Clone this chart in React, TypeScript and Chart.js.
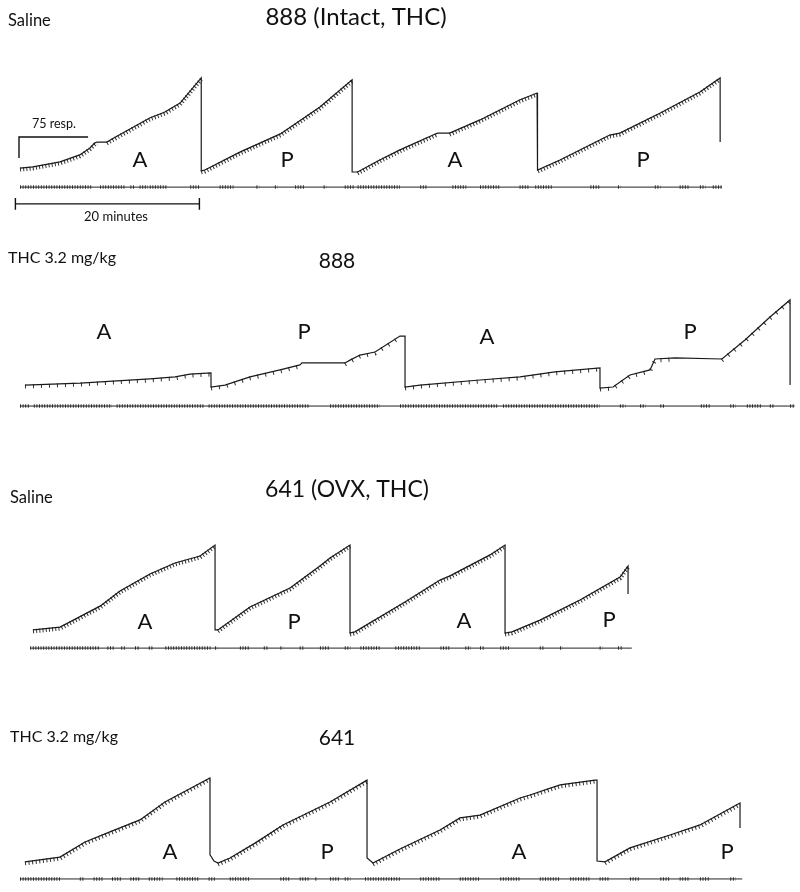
import React, { useEffect, useRef } from "react";
import { Chart, registerables } from "chart.js";

Chart.register(...registerables);

type P = [number, number]; // [minutes, cumulative responses]

// ---- Cumulative records (minutes, cumulative responses; pen resets are vertical drops) ----
const trace888Saline: P[] = [
  [0, 14], [1.4, 18], [4.35, 36], [6.5, 61], [7.6, 86], [8.15, 104], [8.4, 107], [9.45, 107], [10, 118],
  [14.1, 193], [15.75, 214], [17.4, 246], [19.7, 336],
  [19.7, 4], [20.1, 7], [23.9, 71], [28.3, 136], [32.6, 232], [36.1, 329],
  [36.1, 0], [36.7, 0], [39.1, 43], [41.3, 79], [44.9, 132], [45.4, 139], [46.7, 139], [50.0, 186], [54.3, 257], [56.2, 282],
  [56.2, 7], [56.3, 7], [58.7, 43], [64.1, 132], [65.2, 139], [69.6, 211], [73.9, 286], [76.1, 336], [76.1, 107],
];

const trace888Thc: P[] = [
  [0.54, 7], [6.52, 14], [14.13, 29], [16.85, 36], [18.48, 46], [20.76, 50],
  [20.76, 0], [22.28, 7], [25.0, 36], [28.26, 61], [30.43, 79], [30.65, 86], [35.33, 86], [35.87, 96], [36.96, 114], [38.59, 125], [41.3, 182], [41.85, 182],
  [41.85, 0], [43.48, 7], [50.0, 25], [54.35, 36], [58.15, 54], [63.04, 68],
  [63.04, -4], [64.46, 0], [66.3, 43], [68.48, 61], [69.02, 100], [71.2, 104], [76.3, 100], [78.8, 168], [81.52, 250], [83.7, 311],
  [83.7, 7],
];

const trace641Saline: P[] = [
  [1.41, 11], [4.35, 21], [8.7, 96], [10.87, 150], [14.13, 211], [16.85, 250], [19.57, 275], [21.2, 314],
  [21.2, 11], [21.52, 11], [25.0, 93], [29.35, 161], [32.6, 239], [33.7, 268], [35.87, 314],
  [35.87, 0], [36.4, 4], [41.85, 111], [45.65, 189], [46.74, 204], [51.09, 279], [52.72, 314],
  [52.72, 0], [53.48, 4], [56.52, 46], [60.87, 118], [65.22, 200], [66.09, 239],
  [66.09, 139],
];

const trace641Thc: P[] = [
  [0.54, 4], [4.35, 21], [7.07, 75], [9.78, 111], [13.04, 154], [15.76, 218], [20.65, 304],
  [20.65, 29], [21.09, 7], [21.52, 0], [22.83, 18], [25.54, 71], [28.59, 136], [33.7, 218], [37.72, 296],
  [37.72, 18], [38.37, 0], [41.3, 50], [45.65, 118], [47.83, 161], [50.0, 171], [54.35, 232], [55.43, 243], [58.7, 279], [62.5, 296],
  [62.72, 296], [62.72, 7], [63.59, 4], [66.3, 54], [70.65, 100], [73.91, 136], [78.26, 214],
  [78.26, 125],
];

// ---- Event pen: minute ranges where pips are marked ----
const events888Saline: P[] = [
  [0, 7.9], [8.7, 11.4], [12, 12.5], [13, 13.9], [14.1, 16], [18.5, 19.6], [21.7, 23.2], [25.7, 26], [27.7, 28],
  [29.9, 31], [33, 33.3], [35.3, 36.4], [36.7, 41.3], [43.5, 44.3], [47, 48.5], [50, 52.2], [54.3, 55.4],
  [56, 57.8], [62, 63], [65, 65.3], [69, 69.6], [71.7, 72.8], [73.9, 74.5], [75.3, 76.3],
];
const events888Thc: P[] = [
  [0, 1], [1.5, 10], [10.5, 20], [20.5, 31.5], [33.7, 39.1], [41.3, 52], [52.5, 63], [65.2, 65.8], [67.4, 68],
  [69.6, 70], [74, 75.1], [77.2, 77.8], [79, 80.7], [81.5, 82], [83.7, 84.2],
];
const events641Saline: P[] = [
  [1.1, 8.7], [9.5, 10.2], [11, 11.5], [12.5, 13], [14, 14.5], [15.8, 20.7], [21.2, 21.5], [23.9, 25], [26.5, 27],
  [28.3, 28.6], [30.4, 30.8], [32.6, 33.7], [35.3, 35.9], [37, 39.1], [40.8, 43.5], [45.7, 46.7], [48.4, 49],
  [50, 50.5], [52.2, 53.3], [56.5, 57], [58.7, 59], [63, 63.3], [65, 65.4],
];
const events641Thc: P[] = [
  [0, 4.35], [6.5, 7], [8, 9], [10, 11], [12, 13], [14, 15.5], [17, 19.5], [20.5, 21.2], [22.8, 25], [28.3, 29.3],
  [30.4, 31.5], [32.1, 32.3], [33.7, 34.8], [35.3, 35.9], [37.5, 41.3], [43.5, 45.7], [47.8, 50], [52.2, 54.3],
  [56.5, 58.7], [59.8, 62], [63, 64.1], [66.3, 67.4], [69.6, 70.7], [71.7, 72.8], [73.9, 75], [77.2, 77.8],
];

// event-pen extent (minutes)
const eventSpan888Saline: P = [0, 76.3];
const eventSpan888Thc: P = [0, 84.2];
const eventSpan641Saline: P = [1.1, 66.5];
const eventSpan641Thc: P = [0, 78.5];

// calibration bars
const respBar: P[] = [[-0.11, 50], [-0.11, 125], [7.4, 125]]; // 75 resp.
const minuteBarEnds: P = [-0.5, 19.5]; // 20 minutes

// ---- layout ----
const X_MIN = -2.174;
const X_MAX = 84.78;
const PX_PER_RESP = 0.28;
const FONT = "Lato, 'Open Sans', sans-serif";

type Txt = { t: string; x: number; y: number; s: number; a: CanvasTextAlign };

type PanelCfg = {
  top: number;
  height: number;
  base: number;
  trace: P[];
  events: P[];
  span: P;
  eventLevel: number;
  hashDash: number[];
  bars: boolean;
  texts: Txt[];
};

const panels: PanelCfg[] = [
  {
    top: 0, height: 228, base: 172, trace: trace888Saline, events: events888Saline, span: eventSpan888Saline,
    eventLevel: -54, hashDash: [1, 2.2], bars: true,
    texts: [
      { t: "Saline", x: 8, y: 26, s: 16.5, a: "left" },
      { t: "888 (Intact, THC)", x: 356, y: 25, s: 24, a: "center" },
      { t: "75 resp.", x: 32, y: 128, s: 12.5, a: "left" },
      { t: "20 minutes", x: 116, y: 221, s: 13, a: "center" },
      { t: "A", x: 140, y: 167, s: 22, a: "center" },
      { t: "P", x: 287, y: 167, s: 22, a: "center" },
      { t: "A", x: 455, y: 167, s: 22, a: "center" },
      { t: "P", x: 643, y: 167, s: 22, a: "center" },
    ],
  },
  {
    top: 228, height: 200, base: 387, trace: trace888Thc, events: events888Thc, span: eventSpan888Thc,
    eventLevel: -68, hashDash: [1, 7], bars: false,
    texts: [
      { t: "THC 3.2 mg/kg", x: 8, y: 263, s: 16, a: "left" },
      { t: "888", x: 337, y: 268, s: 21, a: "center" },
      { t: "A", x: 104, y: 339, s: 22, a: "center" },
      { t: "P", x: 304, y: 339, s: 22, a: "center" },
      { t: "A", x: 487, y: 344, s: 22, a: "center" },
      { t: "P", x: 690, y: 339, s: 22, a: "center" },
    ],
  },
  {
    top: 428, height: 232, base: 633, trace: trace641Saline, events: events641Saline, span: eventSpan641Saline,
    eventLevel: -54, hashDash: [1, 2.2], bars: false,
    texts: [
      { t: "Saline", x: 10, y: 503, s: 16.5, a: "left" },
      { t: "641 (OVX, THC)", x: 347, y: 497, s: 23, a: "center" },
      { t: "A", x: 145, y: 629, s: 22, a: "center" },
      { t: "P", x: 294, y: 629, s: 22, a: "center" },
      { t: "A", x: 464, y: 628, s: 22, a: "center" },
      { t: "P", x: 609, y: 627, s: 22, a: "center" },
    ],
  },
  {
    top: 660, height: 232, base: 863, trace: trace641Thc, events: events641Thc, span: eventSpan641Thc,
    eventLevel: -57, hashDash: [1, 2.6], bars: false,
    texts: [
      { t: "THC 3.2 mg/kg", x: 10, y: 742, s: 16, a: "left" },
      { t: "641", x: 337, y: 745, s: 21, a: "center" },
      { t: "A", x: 170, y: 859, s: 22, a: "center" },
      { t: "P", x: 327, y: 859, s: 22, a: "center" },
      { t: "A", x: 519, y: 859, s: 22, a: "center" },
      { t: "P", x: 727, y: 859, s: 22, a: "center" },
    ],
  },
];

const shiftPlugin = {
  id: "shiftY",
  beforeDatasetDraw(chart: any, args: any) {
    const ds = chart.data.datasets[args.index];
    if (ds.shiftY) {
      chart.ctx.save();
      chart.ctx.translate(0, ds.shiftY);
    }
  },
  afterDatasetDraw(chart: any, args: any) {
    const ds = chart.data.datasets[args.index];
    if (ds.shiftY) chart.ctx.restore();
  },
};

function Panel({ cfg }: { cfg: PanelCfg }) {
  const ref = useRef<HTMLCanvasElement>(null);
  useEffect(() => {
    if (!ref.current) return;
    const yMax = (cfg.base - cfg.top) / PX_PER_RESP;
    const yMin = -(cfg.top + cfg.height - cfg.base) / PX_PER_RESP;
    const pts = (a: P[]) => a.map(([x, y]) => ({ x, y }));

    const eventPts: any[] = [];
    cfg.events.forEach(([a, b], i) => {
      if (i) eventPts.push({ x: (a + cfg.events[i - 1][1]) / 2, y: null });
      eventPts.push({ x: a, y: cfg.eventLevel }, { x: b, y: cfg.eventLevel });
    });

    const datasets: any[] = [
      {
        data: pts(cfg.trace), borderColor: "#1a1a1a", borderWidth: 1.2, pointRadius: 0,
      },
      {
        data: pts(cfg.trace), borderWidth: 4, borderDash: cfg.hashDash, pointRadius: 0, shiftY: 1.5,
        borderColor: "#333",
        segment: {
          borderColor: (c: any) =>
            c.p0.parsed.x === c.p1.parsed.x || c.p1.parsed.y <= c.p0.parsed.y ? "rgba(0,0,0,0)" : "#333",
        },
      },
      {
        data: [{ x: cfg.span[0], y: cfg.eventLevel }, { x: cfg.span[1], y: cfg.eventLevel }],
        borderColor: "#222", borderWidth: 1, pointRadius: 0,
      },
      {
        data: eventPts, borderColor: "#333", borderWidth: 3.5, borderDash: [1, 1.6], pointRadius: 0, spanGaps: false,
      },
    ];

    if (cfg.bars) {
      const lvl = -114;
      const cap = 21;
      datasets.push(
        { data: pts(respBar), borderColor: "#111", borderWidth: 1.4, pointRadius: 0 },
        {
          data: [
            { x: minuteBarEnds[0], y: lvl }, { x: minuteBarEnds[1], y: lvl }, { x: minuteBarEnds[1], y: null },
            { x: minuteBarEnds[0], y: lvl + cap }, { x: minuteBarEnds[0], y: lvl - cap }, { x: minuteBarEnds[0], y: null },
            { x: minuteBarEnds[1], y: lvl + cap }, { x: minuteBarEnds[1], y: lvl - cap },
          ],
          borderColor: "#111", borderWidth: 1.4, pointRadius: 0, spanGaps: false,
        }
      );
    }

    const textPlugin = {
      id: "texts",
      afterDraw(chart: any) {
        const ctx = chart.ctx as CanvasRenderingContext2D;
        ctx.save();
        ctx.fillStyle = "#111";
        ctx.textBaseline = "alphabetic";
        cfg.texts.forEach((t) => {
          ctx.font = `${t.s}px ${FONT}`;
          ctx.textAlign = t.a;
          ctx.fillText(t.t, t.x, t.y - cfg.top);
        });
        ctx.restore();
      },
    };

    const chart = new Chart(ref.current, {
      type: "line",
      data: { datasets },
      options: {
        animation: false,
        responsive: false,
        devicePixelRatio: 1,
        layout: { padding: 0 },
        elements: { line: { tension: 0 }, point: { radius: 0 } },
        scales: {
          x: { type: "linear", min: X_MIN, max: X_MAX, display: false },
          y: { type: "linear", min: yMin, max: yMax, display: false },
        },
        plugins: { legend: { display: false }, tooltip: { enabled: false } },
      } as any,
      plugins: [shiftPlugin, textPlugin],
    });
    return () => chart.destroy();
  }, [cfg]);

  return (
    <canvas
      ref={ref}
      width={800}
      height={cfg.height}
      style={{ position: "absolute", left: 0, top: cfg.top, width: 800, height: cfg.height, display: "block" }}
    />
  );
}

export default function App() {
  return (
    <div style={{ position: "absolute", left: 0, top: 0, width: 800, height: 892, background: "#fff" }}>
      {panels.map((p, i) => (
        <Panel key={i} cfg={p} />
      ))}
    </div>
  );
}
